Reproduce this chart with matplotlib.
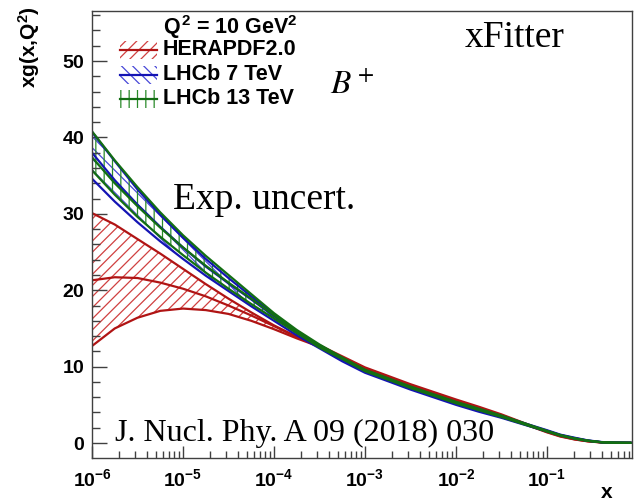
import numpy as np
import matplotlib
matplotlib.use("Agg")
import matplotlib.pyplot as plt
from matplotlib.patches import Rectangle
from matplotlib.lines import Line2D
from matplotlib.ticker import MultipleLocator, LogLocator, FuncFormatter, NullFormatter

plt.rcParams["font.family"] = ["Liberation Sans", "DejaVu Sans"]
plt.rcParams["mathtext.fontset"] = "custom"
plt.rcParams["mathtext.rm"] = "Liberation Sans:bold"
plt.rcParams["mathtext.it"] = "Liberation Sans:bold"
plt.rcParams["mathtext.bf"] = "Liberation Sans:bold"
plt.rcParams["mathtext.sf"] = "Liberation Sans:bold"
plt.rcParams["hatch.linewidth"] = 0.9

# x grid of the gluon distribution at Q^2 = 10 GeV^2
x = [1e-6, 1.78e-6, 3.16e-6, 5.62e-6, 1e-5, 1.78e-5, 3.16e-5, 5.62e-5,
     1e-4, 1.78e-4, 3.16e-4, 5.62e-4, 1e-3, 1.78e-3, 3.16e-3, 5.62e-3,
     1e-2, 1.78e-2, 3.16e-2, 5.62e-2, 0.1, 0.14, 0.2, 0.28, 0.4, 0.56, 0.85]

# HERAPDF2.0: upper edge, central, lower edge
hera_hi = [30.1, 28.6, 26.7, 24.8, 22.8, 20.8, 18.9, 17.1, 15.4, 13.9, 12.8, 11.35,
           9.9, 8.8, 7.7, 6.7, 5.7, 4.75, 3.75, 2.62, 1.5, 0.95, 0.53, 0.26, 0.09, 0.03, 0.02]
hera_c = [21.3, 21.7, 21.6, 21.0, 20.2, 19.2, 18.0, 16.7, 15.3, 13.9, 12.7, 11.2,
          9.75, 8.65, 7.55, 6.55, 5.55, 4.6, 3.65, 2.55, 1.45, 0.9, 0.5, 0.24, 0.08, 0.03, 0.02]
hera_lo = [12.7, 15.0, 16.4, 17.3, 17.6, 17.4, 16.9, 16.0, 14.9, 13.7, 12.6, 11.05,
           9.6, 8.5, 7.4, 6.4, 5.4, 4.45, 3.55, 2.48, 1.4, 0.85, 0.47, 0.22, 0.07, 0.03, 0.02]

# LHCb 7 TeV B+
lhcb7_hi = [40.7, 36.9, 33.2, 29.9, 26.9, 24.1, 21.6, 19.2, 16.8, 14.5, 12.8, 11.1,
            9.5, 8.4, 7.3, 6.3, 5.3, 4.4, 3.5, 2.6, 1.68, 1.1, 0.7, 0.35, 0.13, 0.05, 0.02]
lhcb7_c = [38.0, 34.4, 31.2, 28.3, 25.6, 23.1, 20.9, 18.8, 16.6, 14.4, 12.6, 10.9,
           9.35, 8.25, 7.15, 6.15, 5.15, 4.25, 3.4, 2.5, 1.6, 1.05, 0.65, 0.32, 0.11, 0.04, 0.02]
lhcb7_lo = [34.6, 31.6, 28.9, 26.4, 24.1, 21.9, 19.9, 17.9, 16.0, 14.1, 12.4, 10.7,
            9.2, 8.1, 7.0, 6.0, 5.0, 4.1, 3.3, 2.4, 1.52, 1.0, 0.6, 0.29, 0.09, 0.03, 0.02]

# LHCb 13 TeV B+
lhcb13_hi = [40.8, 37.0, 33.5, 30.2, 27.2, 24.5, 22.0, 19.5, 17.0, 14.8, 12.9, 11.2,
             9.6, 8.5, 7.4, 6.4, 5.4, 4.5, 3.6, 2.6, 1.6, 1.05, 0.62, 0.32, 0.11, 0.05, 0.02]
lhcb13_c = [37.4, 34.0, 31.0, 28.2, 25.6, 23.2, 21.0, 18.9, 16.7, 14.6, 12.7, 11.1,
            9.5, 8.4, 7.3, 6.3, 5.3, 4.4, 3.5, 2.5, 1.55, 1.0, 0.6, 0.3, 0.1, 0.04, 0.02]
lhcb13_lo = [35.7, 32.5, 29.6, 27.0, 24.6, 22.3, 20.2, 18.2, 16.3, 14.4, 12.5, 11.0,
             9.4, 8.3, 7.2, 6.2, 5.2, 4.3, 3.4, 2.45, 1.5, 0.97, 0.58, 0.28, 0.09, 0.03, 0.02]

labels = ["HERAPDF2.0", "LHCb 7 TeV", "LHCb 13 TeV"]
header = r"$Q^{2}$ = 10 GeV$^{2}$"

RED, BLUE, GREEN = "#b01414", "#1414b4", "#136e13"
HATCH_COL = ["#d04040", "#4848d8", "#2a8a2a"]
HATCHES = ["///", "\\\\\\", "||"]
LW = 1.6

fig = plt.figure(figsize=(6.34, 5.01), dpi=100)
ax = fig.add_axes([92 / 634, 1 - 458 / 501, 540 / 634, 447 / 501])
ax.set_xscale("log")
ax.set_xlim(1e-6, 0.86)
ax.set_ylim(-1.96, 56.55)

sets = [(hera_lo, hera_c, hera_hi, RED),
        (lhcb7_lo, lhcb7_c, lhcb7_hi, BLUE),
        (lhcb13_lo, lhcb13_c, lhcb13_hi, GREEN)]
for i, (lo, c, hi, col) in enumerate(sets):
    ax.fill_between(x, lo, hi, facecolor="none", edgecolor=HATCH_COL[i],
                    hatch=HATCHES[i], linewidth=0)
    for arr in (lo, c, hi):
        ax.plot(x, arr, color=col, lw=LW, solid_capstyle="butt")

# axes styling
for s in ax.spines.values():
    s.set_color("#404040")
    s.set_linewidth(1.0)
ax.yaxis.set_major_locator(MultipleLocator(10))
ax.yaxis.set_minor_locator(MultipleLocator(2))
ax.yaxis.set_major_formatter(FuncFormatter(lambda v, p: r"$%d$" % int(round(v))))
ax.xaxis.set_major_locator(LogLocator(base=10, numticks=20))
ax.xaxis.set_minor_locator(LogLocator(base=10, subs=np.arange(2, 10), numticks=20))
ax.xaxis.set_minor_formatter(NullFormatter())
ax.xaxis.set_major_formatter(FuncFormatter(lambda v, p: r"$10^{%d}$" % int(round(np.log10(v)))))
ax.tick_params(which="both", direction="in", top=False, right=False, colors="#404040",
               labelcolor="black", width=1.0)
ax.tick_params(axis="y", which="major", length=11, pad=5, labelsize=14)
ax.tick_params(axis="y", which="minor", length=6)
ax.tick_params(axis="x", which="major", length=9, pad=7, labelsize=14)
ax.tick_params(axis="x", which="minor", length=5)

fig.text(29 / 634, 1 - 6 / 501, r"xg(x,Q$^{2}$)", rotation=90, ha="center", va="top",
         fontsize=15, fontweight="bold")
fig.text(612 / 634, 1 - 492 / 501, "x", ha="right", va="center", fontsize=15, fontweight="bold")

# legend
def ax_xy(px, py):
    return (px - 92) / 540, (458 - py) / 447

hx, hy = ax_xy(163, 27)
ax.text(hx, hy, header, transform=ax.transAxes, ha="left", va="center",
        fontsize=15.5, fontweight="bold")
entry_y = [50, 75, 99]
cols = [RED, BLUE, GREEN]
for i, lab in enumerate(labels):
    x0, yc = ax_xy(120, entry_y[i])
    x1, _ = ax_xy(157, entry_y[i])
    h = 18 / 447
    ax.add_patch(Rectangle((x0, yc - h / 2), x1 - x0, h, transform=ax.transAxes,
                           facecolor="none", edgecolor=HATCH_COL[i], hatch=HATCHES[i], lw=0))
    ax.add_line(Line2D([x0, x1], [yc, yc], transform=ax.transAxes, color=cols[i], lw=LW))
    tx, _ = ax_xy(163, entry_y[i])
    ax.text(tx, yc, lab, transform=ax.transAxes, ha="left", va="center",
            fontsize=15.5, fontweight="bold")

serif = ["Liberation Serif", "DejaVu Serif"]
ax.text(*ax_xy(465, 38), "xFitter", transform=ax.transAxes, ha="left", va="center",
        fontsize=27, family=serif)
ax.text(*ax_xy(330, 85), r"$B^+$", transform=ax.transAxes, ha="left", va="center",
        fontsize=24, math_fontfamily="stix")
ax.text(*ax_xy(173, 200), "Exp. uncert.", transform=ax.transAxes, ha="left", va="center",
        fontsize=27, family=serif)
ax.text(*ax_xy(115, 433), "J. Nucl. Phy. A 09 (2018) 030", transform=ax.transAxes,
        ha="left", va="center", fontsize=23, family=serif)

fig.savefig("out.png", dpi=100)
